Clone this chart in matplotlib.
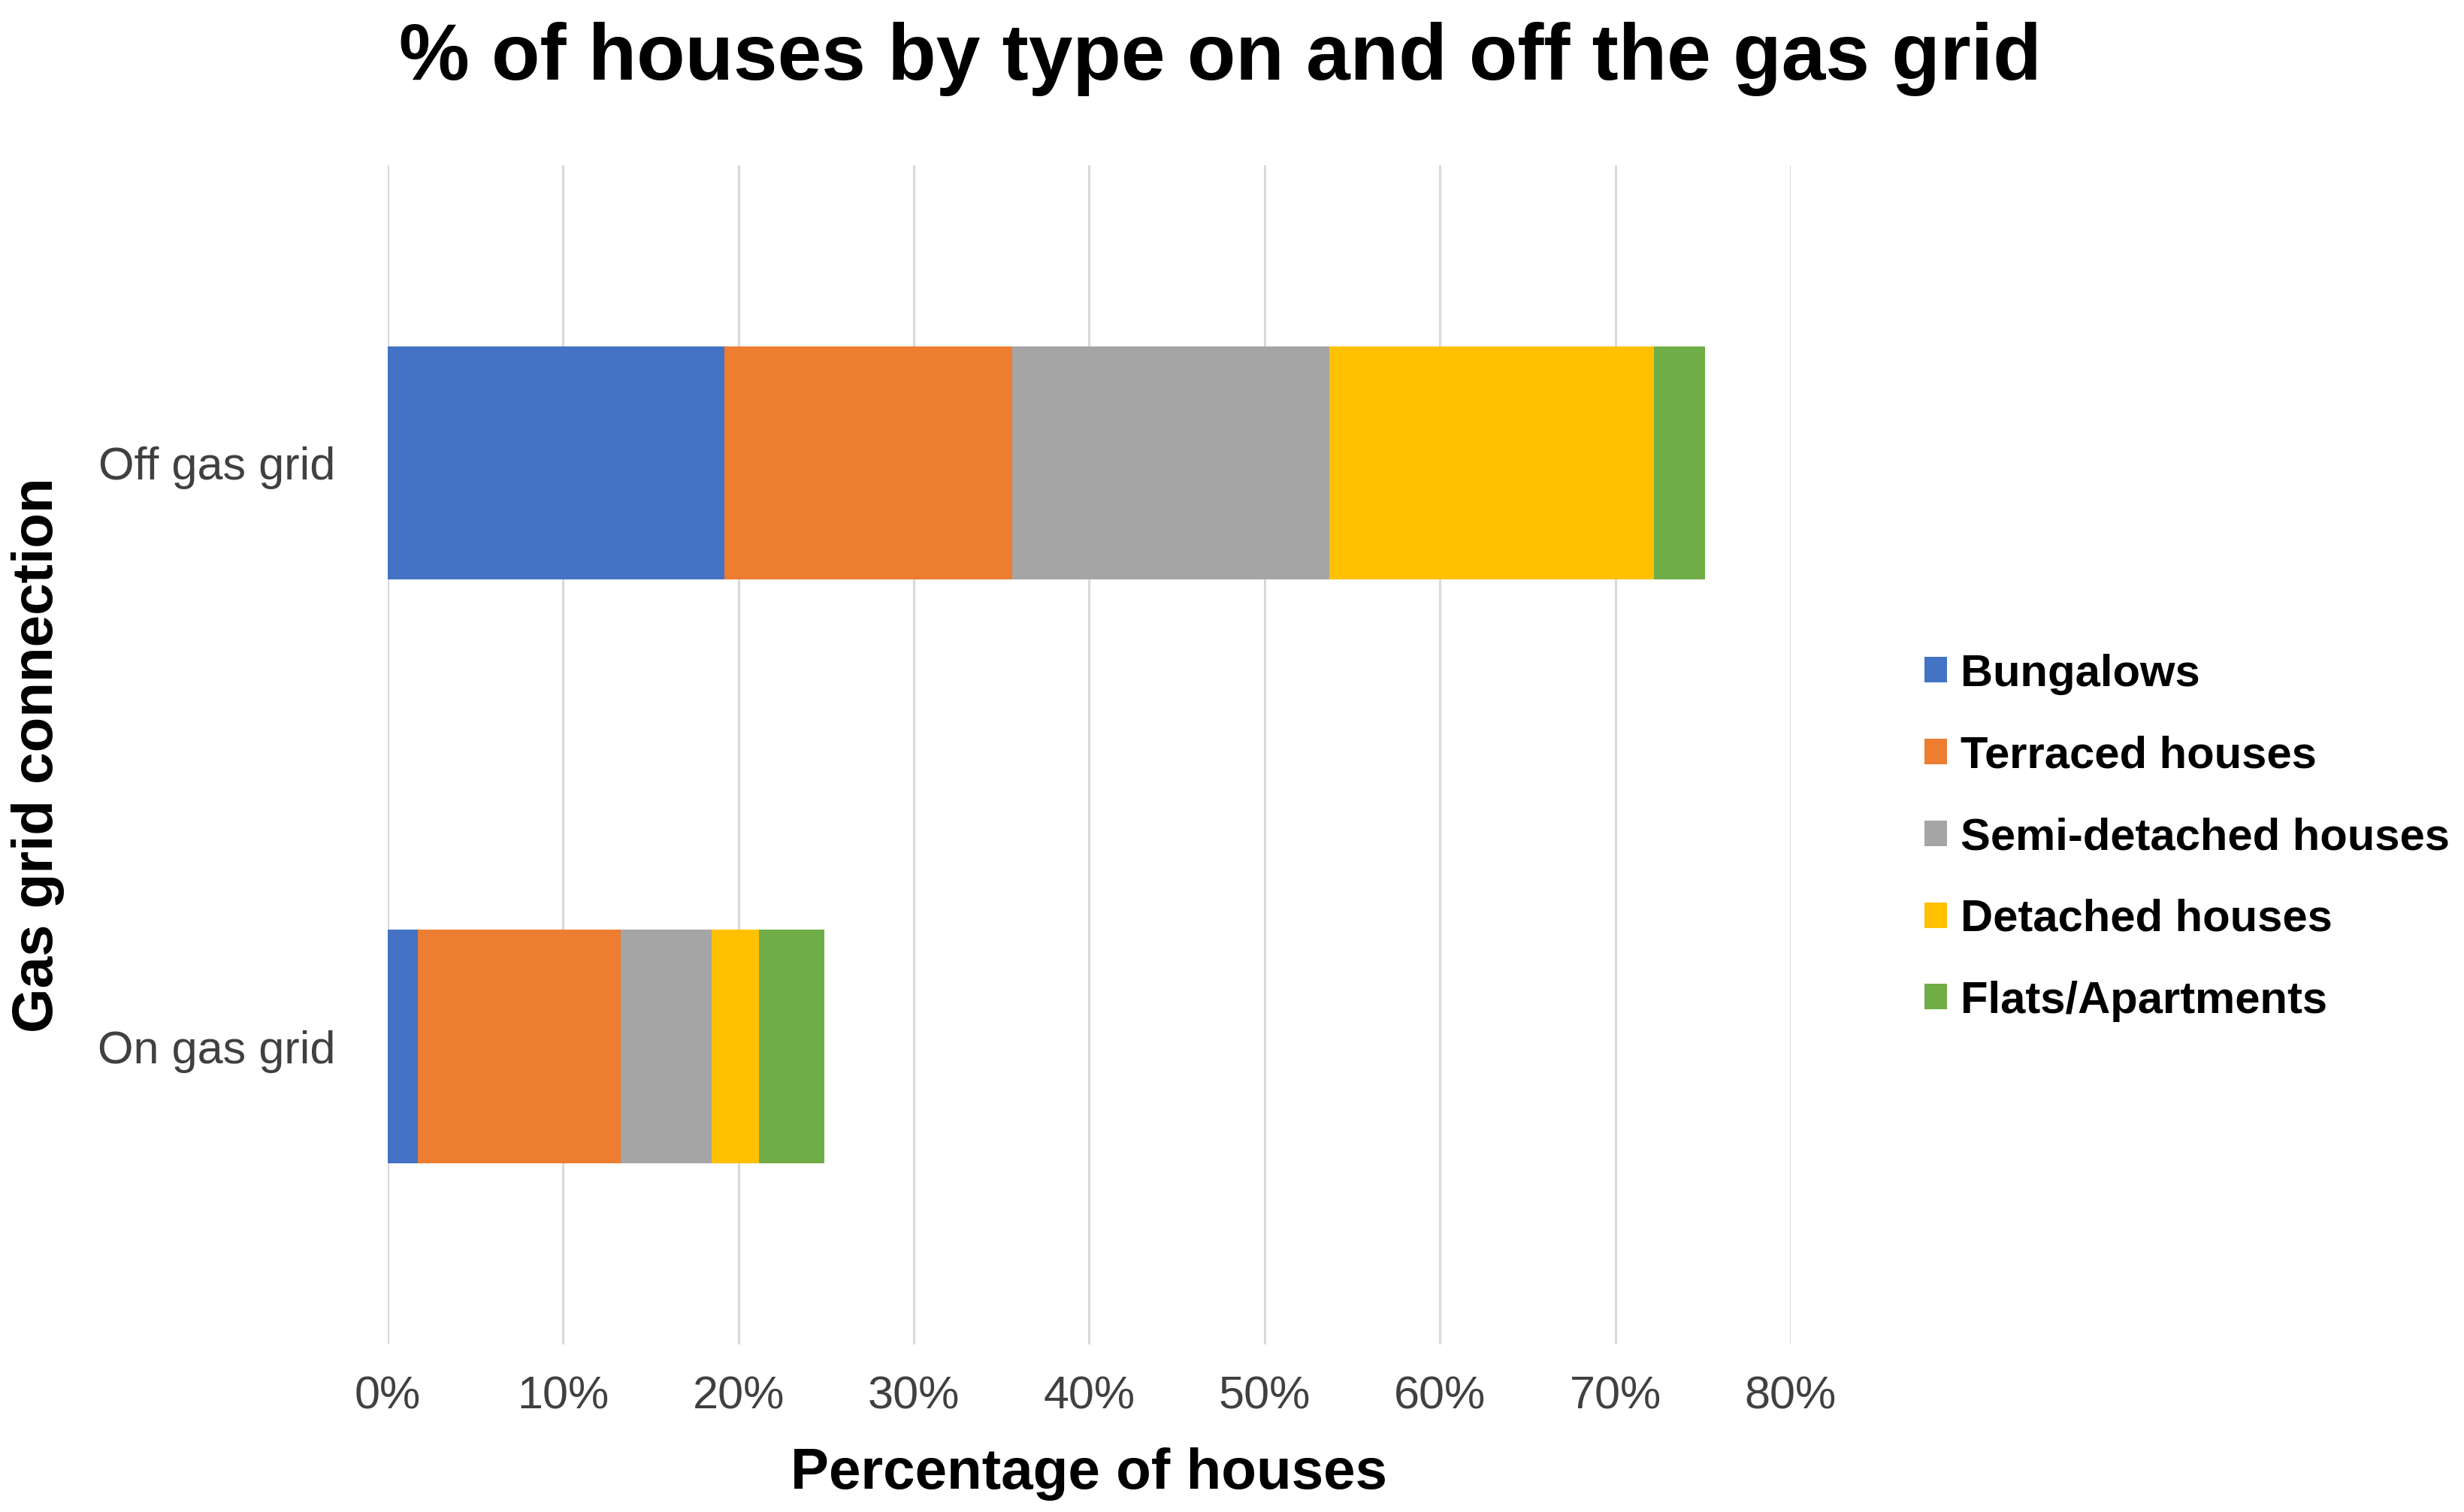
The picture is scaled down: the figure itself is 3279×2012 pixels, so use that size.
import matplotlib.pyplot as plt
from matplotlib.ticker import PercentFormatter
import numpy as np

plt.rcParams['font.family'] = ['Liberation Sans', 'DejaVu Sans']

# data (fractions of all houses)
groups = ['On gas grid', 'Off gas grid']
house_types = ['Bungalows', 'Terraced houses', 'Semi-detached houses',
               'Detached houses', 'Flats/Apartments']
on_grid = [0.017, 0.116, 0.0515, 0.027, 0.0375]
off_grid = [0.192, 0.164, 0.181, 0.185, 0.029]
colors = ['#4472C4', '#ED7D31', '#A5A5A5', '#FFC000', '#70AD47']

fig = plt.figure(figsize=(16.4, 10.06), dpi=200)
ax = fig.add_axes([0.1573, 0.1109, 0.5692, 0.7798])

y = np.arange(len(groups))
left = np.zeros(len(groups))
for i, name in enumerate(house_types):
    vals = np.array([on_grid[i], off_grid[i]])
    ax.barh(y, vals, left=left, height=0.40, color=colors[i], label=name, zorder=3)
    left += vals

ax.set_xlim(0, 0.8)
ax.set_ylim(-0.51, 1.51)
ax.set_xticks(np.arange(0, 0.81, 0.1))
ax.xaxis.set_major_formatter(PercentFormatter(1.0, decimals=0))
ax.set_yticks(y)
ax.set_yticklabels(groups)
ax.grid(axis='x', color='#D9D9D9', linewidth=1.1, zorder=0)
for s in ax.spines.values():
    s.set_visible(False)
ax.tick_params(axis='both', length=0, labelsize=22, labelcolor='#404040')
ax.tick_params(axis='x', pad=15)
ax.tick_params(axis='y', pad=25)

ax.set_xlabel('Percentage of houses', fontsize=27.5, fontweight='bold', labelpad=14)
ax.set_ylabel('Gas grid connection', fontsize=27.5, fontweight='bold', labelpad=16)
fig.text(0.495, 0.961, '% of houses by type on and off the gas grid',
         ha='center', va='center', fontsize=38, fontweight='bold')

ax.legend(loc='center left', bbox_to_anchor=(0.7735, 0.446),
          bbox_transform=fig.transFigure, frameon=False,
          prop={'size': 21.5, 'weight': 'bold'},
          handlelength=0.5, handleheight=0.5, handletextpad=0.3,
          labelspacing=0.9, borderaxespad=0)

fig.savefig('out.png', dpi=200)
